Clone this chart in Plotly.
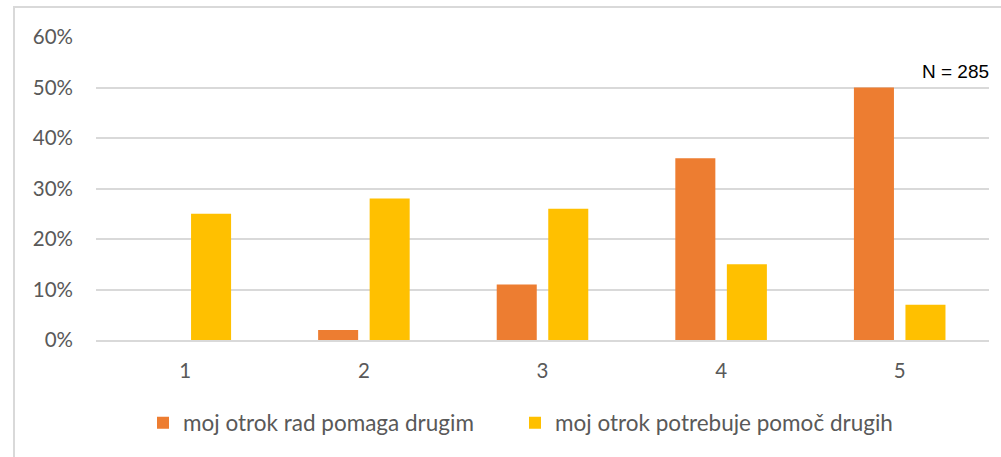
import plotly.graph_objects as go

categories = ["1", "2", "3", "4", "5"]
helps_others = [0, 2, 11, 36, 50]
needs_help = [25, 28, 26, 15, 7]
series_names = ["moj otrok rad pomaga drugim", "moj otrok potrebuje pomoč drugih"]
y_ticks = [0, 10, 20, 30, 40, 50, 60]
y_tick_labels = [f"{v}%" for v in y_ticks]

W, H = 1001, 457
L, R, T, B = 96, 12, 37, 117
pw = W - L - R
ph = H - T - B

fig = go.Figure()
fig.add_trace(go.Bar(x=categories, y=helps_others, name=series_names[0],
                     marker=dict(color="#ED7D31", line=dict(width=0)), legend="legend"))
fig.add_trace(go.Bar(x=categories, y=needs_help, name=series_names[1],
                     marker=dict(color="#FFC000", line=dict(width=0)), legend="legend2"))

font_main = "Lato, 'Open Sans', sans-serif"
legend_y = -(423 - T - ph) / ph
legend_common = dict(orientation="h", xanchor="left", y=legend_y, yanchor="middle",
                     font=dict(family=font_main, size=22.5, color="#595959"),
                     itemwidth=30, bgcolor="rgba(0,0,0,0)")

fig.update_layout(
    width=W, height=H,
    margin=dict(l=L, r=R, t=T, b=B, autoexpand=False),
    paper_bgcolor="white", plot_bgcolor="white",
    barmode="group", bargap=0.423, bargroupgap=0.223,
    showlegend=True,
    legend=dict(x=(143 - L) / pw, **legend_common),
    legend2=dict(x=(515 - L) / pw, **legend_common),
    font=dict(family=font_main, size=20, color="#595959"),
    xaxis=dict(type="category", showgrid=False, showline=True, linecolor="#d9d9d9",
               linewidth=1.5, ticks="", ticklabelstandoff=12,
               tickfont=dict(family=font_main, size=20.5, color="#595959")),
    yaxis=dict(range=[0, 60], tickvals=y_ticks, ticktext=y_tick_labels,
               showgrid=True, gridcolor="#d9d9d9", gridwidth=1.5,
               zeroline=False, showline=False, ticks="", ticklabelstandoff=22,
               tickfont=dict(family=font_main, size=20.5, color="#595959")),
    shapes=[dict(type="rect", xref="paper", yref="paper",
                 x0=(14 - L) / pw, x1=(1010 - L) / pw,
                 y0=-(470 - T - ph) / ph, y1=1 + (T - 7) / ph,
                 line=dict(color="#d9d9d9", width=2), fillcolor="rgba(0,0,0,0)",
                 layer="below")],
    annotations=[dict(text="N = 285", xref="paper", yref="paper",
                      x=(991 - L) / pw, y=1 - (71 - T) / ph,
                      xanchor="right", yanchor="middle", showarrow=False,
                      font=dict(family="'Liberation Sans Narrow', 'Arial Narrow', 'Liberation Sans', sans-serif",
                                size=19, color="#000000"))],
)

fig.write_html("out.html", config={"displayModeBar": False})
with open("out.html", "r", encoding="utf-8") as f:
    html = f.read()
html = html.replace("<head>", "<head><style>html,body{margin:0;padding:0;overflow:hidden;}</style>", 1)
with open("out.html", "w", encoding="utf-8") as f:
    f.write(html)
